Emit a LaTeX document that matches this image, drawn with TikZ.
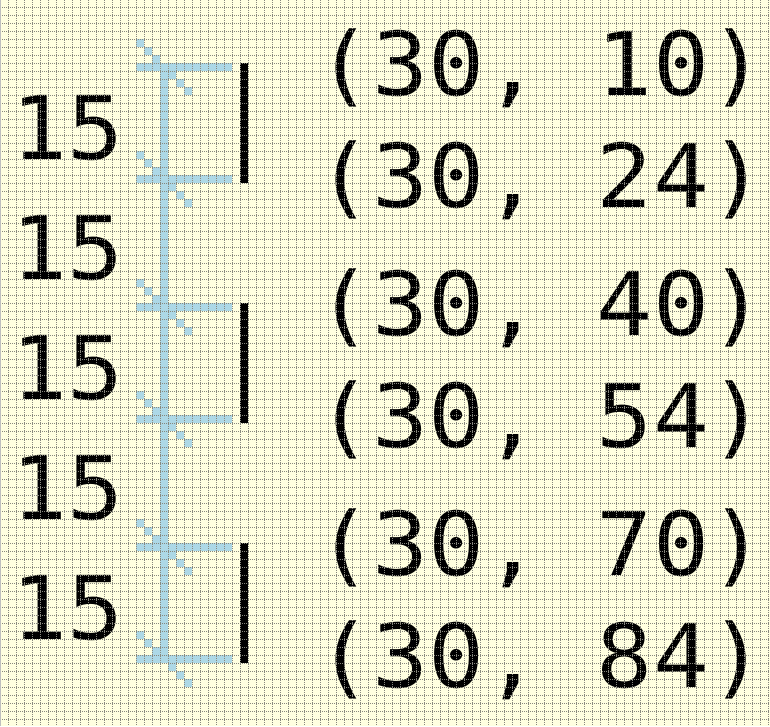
\documentclass[tikz,border=0pt]{standalone}
\usepackage{fontspec}
\newfontfamily\pixfont[FakeStretch=1.06]{DejaVu Sans Mono}
\definecolor{canvas}{RGB}{255,255,224}
\definecolor{dimblue}{RGB}{173,216,230}
\definecolor{gridgray}{RGB}{135,135,125}
\begin{document}
\begin{tikzpicture}[x=8pt, y=-8pt,
    dimcell/.style={fill=dimblue},
    barcell/.style={fill=black},
    pixgrid/.style={gridgray, line width=0.8pt, dash pattern=on 1pt off 1pt},
    pixtext/.style={anchor=base, inner sep=0pt, font=\pixfont\fontsize{88}{88}\selectfont}]
    \fill[canvas] (0,2.125) rectangle (96.25,92.875);
    \useasboundingbox (0,2.125) rectangle (96.25,92.875);
    
    % dimension chain
    \fill[dimcell] (20,10) rectangle (21,85);
    \foreach \r in {10,24,40,54,70,84} {
        \fill[dimcell] (17,\r) rectangle (29,\r+1);
        \foreach \d in {-3,-2,-1,1,2,3}
            \fill[dimcell] (20+\d,\r+\d) rectangle +(1,1);
    }
    
    % black bars
    \foreach \t in {10,40,70}
        \fill[barcell] (30,\t) rectangle (31,\t+15);
    
    \node[pixtext] (len1) at (8.5,22) {15};
    \node[pixtext] (len2) at (8.5,37) {15};
    \node[pixtext] (len3) at (8.5,52) {15};
    \node[pixtext] (len4) at (8.5,67) {15};
    \node[pixtext] (len5) at (8.5,82) {15};
    
    \node[pixtext] (pt10) at (67.6,14) {(30, 10)};
    \node[pixtext] (pt24) at (67.6,28) {(30, 24)};
    \node[pixtext] (pt40) at (67.6,44) {(30, 40)};
    \node[pixtext] (pt54) at (67.6,58) {(30, 54)};
    \node[pixtext] (pt70) at (67.6,74) {(30, 70)};
    \node[pixtext] (pt84) at (67.6,88) {(30, 84)};
    
    % pixel grid on top
    \foreach \c in {1,...,96}
        \draw[pixgrid] (\c,2.125) -- (\c,92.875);
    \foreach \r in {3,...,92}
        \draw[pixgrid] (0,\r) -- (96.25,\r);
    \draw[gray!50, line width=1pt] (0.06,2.125) -- (0.06,92.875);
\end{tikzpicture}
\end{document}
